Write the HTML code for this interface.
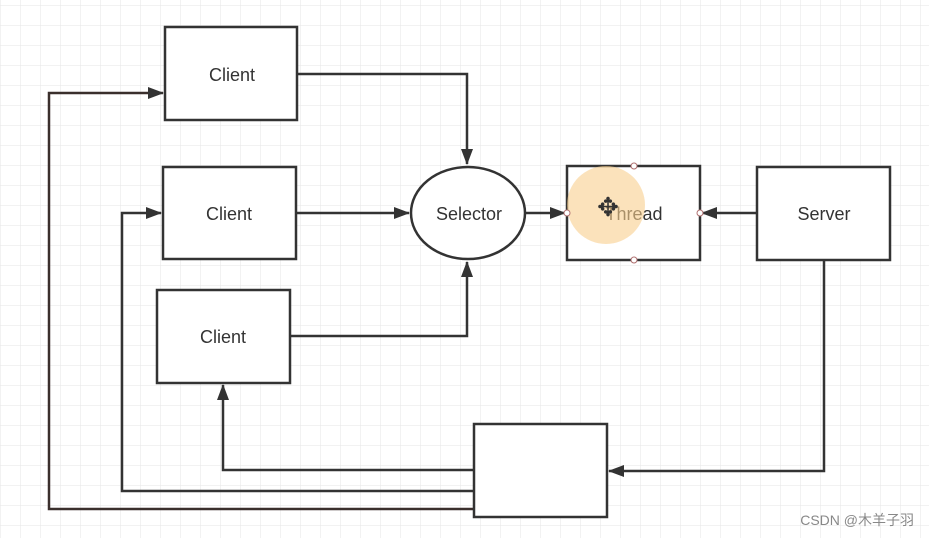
<!DOCTYPE html>
<html><head><meta charset="utf-8"><style>
html,body{margin:0;padding:0;background:#fff;}
svg{display:block;}
text{font-family:"Liberation Sans","Noto Sans CJK SC",sans-serif;}
</style></head><body>
<svg width="929" height="538" viewBox="0 0 929 538" xmlns="http://www.w3.org/2000/svg">
<defs>
<pattern id="g" x="0" y="5" width="20" height="20" patternUnits="userSpaceOnUse">
<path d="M0 0H20M0 0V20" stroke="#e6e6e6" stroke-width="1" fill="none"/>
</pattern>
<marker id="a" markerWidth="16" markerHeight="14" refX="15" refY="6" orient="auto" markerUnits="userSpaceOnUse" viewBox="0 0 16 12">
<path d="M0 0L16 6L0 12Z" fill="#333"/>
</marker>
</defs>
<rect width="929" height="538" fill="url(#g)"/>
<g stroke="#333" stroke-width="2.5" fill="none">
<path d="M297 74H467V164" marker-end="url(#a)"/>
<path d="M296 213H409" marker-end="url(#a)"/>
<path d="M290 336H467V262" marker-end="url(#a)"/>
<path d="M525 213H565" marker-end="url(#a)"/>
<path d="M757 213H702" marker-end="url(#a)"/>
<path d="M824 260V471H609" marker-end="url(#a)"/>
<path d="M474 470H223V385" marker-end="url(#a)"/>
<path d="M474 491H122V213H161" marker-end="url(#a)"/>
<path d="M474 509H49V93H163" stroke="#3a2f2c" marker-end="url(#a)"/>
</g>
<g stroke="#333" stroke-width="2.5" fill="#fff">
<rect x="165" y="27" width="132" height="93"/>
<rect x="163" y="167" width="133" height="92"/>
<rect x="157" y="290" width="133" height="93"/>
<ellipse cx="468" cy="213" rx="57" ry="46"/>
<rect x="567" y="166" width="133" height="94"/>
<rect x="757" y="167" width="133" height="93"/>
<rect x="474" y="424" width="133" height="93"/>
</g>
<g font-size="18" fill="#333" text-anchor="middle">
<text x="232" y="81">Client</text>
<text x="229" y="220">Client</text>
<text x="223" y="343">Client</text>
<text x="469" y="220">Selector</text>
<text x="634" y="220">Thread</text>
<text x="824" y="220">Server</text>
</g>
<circle cx="606" cy="205" r="39" fill="#f8cf8e" opacity="0.6"/>
<g fill="#fff" stroke="#b07070" stroke-width="1">
<circle cx="634" cy="166" r="3"/><circle cx="634" cy="260" r="3"/>
<circle cx="567" cy="213" r="3"/><circle cx="700" cy="213" r="3"/>
</g>
<text x="608" y="216" font-size="26" fill="#333" text-anchor="middle">✥</text>
<text x="914" y="525" font-size="14" fill="#888" text-anchor="end">CSDN @木羊子羽</text>
</svg>
</body></html>
